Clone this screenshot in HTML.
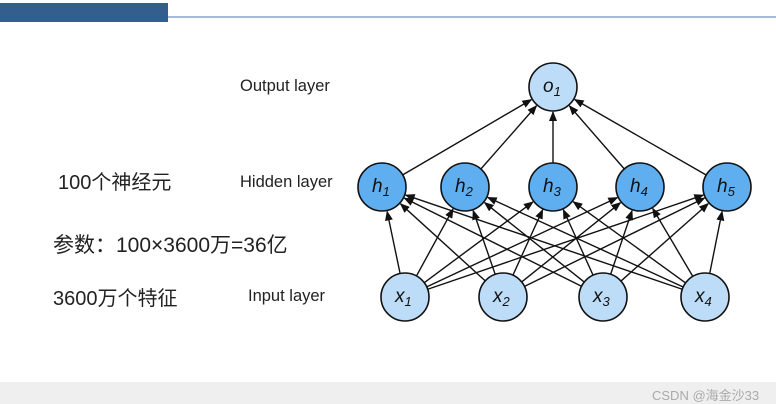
<!DOCTYPE html>
<html><head><meta charset="utf-8"><style>
html,body{margin:0;padding:0;width:776px;height:404px;overflow:hidden;background:#fff;font-family:"Liberation Sans","Noto Sans CJK SC",sans-serif;}
.t{position:absolute;white-space:nowrap;color:#222;}
</style></head><body>
<div style="position:absolute;left:0;top:3px;width:168px;height:19px;background:#335f8f;"></div>
<div style="position:absolute;left:168px;top:16px;width:608px;height:2px;background:#a8bcd8;"></div>
<div style="position:absolute;left:0;top:382px;width:776px;height:22px;background:#efefef;"></div>
<div class="t" style="left:652px;top:385px;font-size:13px;color:#aaa;">CSDN @海金沙33</div>
<div class="t" style="left:58px;top:166px;font-size:20px;">100个神经元</div>
<div class="t" style="left:53px;top:229px;font-size:21px;">参数：100×3600万=36亿</div>
<div class="t" style="left:53px;top:282px;font-size:20px;">3600万个特征</div>
<div class="t" style="left:240px;top:77px;font-size:16.5px;">Output layer</div>
<div class="t" style="left:240px;top:173px;font-size:16.5px;">Hidden layer</div>
<div class="t" style="left:248px;top:287px;font-size:16.5px;">Input layer</div>
<svg id="s" width="776" height="404" style="position:absolute;left:0;top:0">
<defs><marker id="a" markerWidth="10" markerHeight="8" refX="9" refY="4" orient="auto" markerUnits="userSpaceOnUse"><path d="M0,0 L10,4 L0,8 z" fill="#111"/></marker></defs>
<g id="e" stroke="#111" stroke-width="1.4"></g>
<g id="n"></g>
</svg>
<script>
var R=24,o=[[553,87]],h=[[382,187],[465,187],[553,187],[640,187],[727,187]],x=[[405,297],[503,297],[603,297],[705,297]];
var e=document.getElementById('e'),n=document.getElementById('n'),ns='http://www.w3.org/2000/svg';
function ln(a,b){var dx=b[0]-a[0],dy=b[1]-a[1],d=Math.hypot(dx,dy),ux=dx/d,uy=dy/d;var l=document.createElementNS(ns,'line');
l.setAttribute('x1',a[0]+ux*R);l.setAttribute('y1',a[1]+uy*R);l.setAttribute('x2',b[0]-ux*(R+1));l.setAttribute('y2',b[1]-uy*(R+1));l.setAttribute('marker-end','url(#a)');e.appendChild(l);}
x.forEach(function(a){h.forEach(function(b){ln(a,b)})});h.forEach(function(a){ln(a,o[0])});
function nd(p,f,lab,sub){var c=document.createElementNS(ns,'circle');c.setAttribute('cx',p[0]);c.setAttribute('cy',p[1]);c.setAttribute('r',R);c.setAttribute('fill',f);c.setAttribute('stroke','#111');c.setAttribute('stroke-width','1.6');n.appendChild(c);
var t=document.createElementNS(ns,'text');t.setAttribute('x',p[0]-10);t.setAttribute('y',p[1]+5);t.setAttribute('font-size','19');t.setAttribute('font-style','italic');t.setAttribute('font-family','Liberation Sans, sans-serif');t.setAttribute('fill','#111');t.innerHTML=lab+'<tspan font-size="13" dy="4">'+sub+'</tspan>';n.appendChild(t);}
nd(o[0],'#bcdcf7','o',1);h.forEach(function(p,i){nd(p,'#5eaef0','h',i+1)});x.forEach(function(p,i){nd(p,'#bcdcf7','x',i+1)});
</script>
</body></html>
